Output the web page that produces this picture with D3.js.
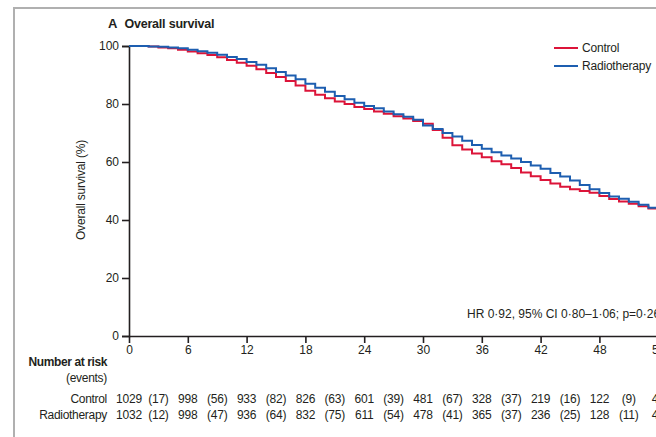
<!DOCTYPE html>
<html>
<head>
<meta charset="utf-8">
<script src="https://cdn.jsdelivr.net/npm/d3@7"></script>
<style>
  html, body { margin: 0; padding: 0; background: #fff; }
  svg { display: block; }
  text { font-family: "Liberation Sans", Arial, sans-serif; fill: #231f20; }
</style>
</head>
<body>
<svg id="chart" width="656" height="437"></svg>
<script>
// Follow-up time (months) at which survival estimates are recorded
const months = [0,1,2,3,4,5,6,7,8,9,10,11,12,13,14,15,16,17,18,19,20,21,22,23,24,25,26,27,28,29,30,
  31,32,33,34,35,36,37,38,39,40,41,42,43,44,45,46,47,48,49,50,51,52,53,54,55];

// Kaplan-Meier overall survival (%) per arm
const controlSurvival = [100,100,99.8,99.5,99.2,98.7,98.1,97.5,96.9,96.1,95.2,94.2,93.2,92.0,90.7,89.3,87.9,86.4,84.6,83.2,82.0,
  80.9,80.0,79.0,78.3,77.4,76.6,75.8,75.0,74.1,73.2,71.0,68.4,65.8,64.3,62.9,61.6,60.3,59.2,57.9,56.4,
  55.1,53.8,52.6,51.5,50.6,50.0,49.4,48.3,47.2,46.4,45.6,44.7,44.0,43.3,42.8];
const radiotherapySurvival = [100,100,99.8,99.7,99.5,99.2,98.7,98.2,97.7,97.0,96.2,95.5,94.5,93.5,92.3,91.0,89.8,88.5,87.0,85.6,84.2,
  82.8,81.6,80.4,79.3,78.5,77.4,76.5,75.6,74.6,72.6,71.4,70.0,68.8,67.3,65.9,64.6,63.4,62.2,61.2,60.0,
  58.8,57.7,56.2,55.0,53.6,52.1,50.6,49.3,48.1,47.3,46.3,45.3,44.2,43.5,43.0];

// Axis ticks
const xTicks = [0,6,12,18,24,30,36,42,48,54,60];
const yTicks = [0,20,40,60,80,100];

// Number at risk (events in each interval)
const riskControl = [1029,998,933,826,601,481,328,219,122,47];
const eventsControl = [17,56,82,63,39,67,37,16,9];
const riskRadiotherapy = [1032,998,936,832,611,478,365,236,128,49];
const eventsRadiotherapy = [12,47,64,75,54,41,37,25,11];

const seriesNames = ["Control", "Radiotherapy"];
const seriesColors = ["#dc1439", "#1d5eb0"];

const svg = d3.select("#chart");

// Panel frame
svg.append("path")
  .attr("d", "M14,437 L14,8 L656,8")
  .attr("fill", "none").attr("stroke", "#b0b0b0").attr("stroke-width", 2);

const x = d3.scaleLinear().domain([0, 60]).range([129, 717]);
const y = d3.scaleLinear().domain([0, 100]).range([336, 46]);

// Title
const title = svg.append("text").attr("x", 108).attr("y", 28).style("font-weight", "bold");
title.append("tspan").style("font-size", "13px").text("A");
title.append("tspan").attr("dx", 7).style("font-size", "12.5px").style("letter-spacing", "-0.2px").text("Overall survival");

// Y axis
const yAxis = svg.append("g").attr("transform", `translate(${x(0)},0)`)
  .call(d3.axisLeft(y).tickValues(yTicks).tickSize(7).tickPadding(3));
yAxis.select(".domain").attr("stroke", "#231f20").attr("stroke-width", 1.6);
yAxis.selectAll(".tick line").attr("stroke", "#231f20").attr("stroke-width", 1.6);
yAxis.selectAll(".tick text").style("font-size", "12px").style("font-family", "Liberation Sans, Arial, sans-serif").attr("fill", "#231f20");

svg.append("text")
  .attr("transform", "translate(85,190) rotate(-90)")
  .attr("text-anchor", "middle")
  .style("font-size", "12px")
  .style("letter-spacing", "-0.2px")
  .text("Overall survival (%)");

// X axis
const xAxis = svg.append("g").attr("transform", `translate(0,${y(0)})`)
  .call(d3.axisBottom(x).tickValues(xTicks).tickSize(7).tickPadding(2).tickSizeOuter(0));
xAxis.select(".domain").attr("stroke", "#231f20").attr("stroke-width", 1.6);
xAxis.selectAll(".tick line").attr("stroke", "#231f20").attr("stroke-width", 1.6);
xAxis.selectAll(".tick text").style("font-size", "12px").style("font-family", "Liberation Sans, Arial, sans-serif").attr("fill", "#231f20");

// Survival curves
const line = d3.line()
  .x(d => x(d[0]))
  .y(d => y(d[1]))
  .curve(d3.curveStepAfter);

[controlSurvival, radiotherapySurvival].forEach((vals, i) => {
  svg.append("path")
    .datum(months.map((m, j) => [m, vals[j]]))
    .attr("d", line)
    .attr("fill", "none")
    .attr("stroke", seriesColors[i])
    .attr("stroke-width", 2);
});

// Legend
const legendY = [48, 66];
seriesNames.forEach((name, i) => {
  svg.append("line")
    .attr("x1", 554).attr("x2", 578)
    .attr("y1", legendY[i]).attr("y2", legendY[i])
    .attr("stroke", seriesColors[i]).attr("stroke-width", 2);
  svg.append("text")
    .attr("x", 582).attr("y", legendY[i] + 4)
    .style("font-size", "12px")
    .style("letter-spacing", "-0.2px")
    .text(name);
});

// Hazard ratio annotation
svg.append("text")
  .attr("x", 467).attr("y", 318)
  .style("font-size", "12px")
  .text("HR 0·92, 95% CI 0·80–1·06; p=0·26");

// Number at risk table
svg.append("text").attr("x", 107).attr("y", 366).attr("text-anchor", "end")
  .style("font-size", "12px").style("font-weight", "bold").style("letter-spacing", "-0.4px")
  .text("Number at risk");
svg.append("text").attr("x", 107).attr("y", 382).attr("text-anchor", "end")
  .style("font-size", "12px").style("letter-spacing", "-0.3px")
  .text("(events)");

const rowY = [403, 419];
const riskRows = [riskControl, riskRadiotherapy];
const eventRows = [eventsControl, eventsRadiotherapy];
seriesNames.forEach((name, i) => {
  svg.append("text").attr("x", 107).attr("y", rowY[i]).attr("text-anchor", "end")
    .style("font-size", "12px").style("letter-spacing", "-0.3px")
    .text(name);
  svg.selectAll(null).data(riskRows[i]).enter().append("text")
    .attr("x", (d, j) => x(j * 6)).attr("y", rowY[i])
    .attr("text-anchor", "middle")
    .style("font-size", "12px").style("letter-spacing", "-0.2px")
    .text(d => d);
  svg.selectAll(null).data(eventRows[i]).enter().append("text")
    .attr("x", (d, j) => x(j * 6 + 3)).attr("y", rowY[i])
    .attr("text-anchor", "middle")
    .style("font-size", "12px").style("letter-spacing", "-0.2px")
    .text(d => `(${d})`);
});
</script>
</body>
</html>
